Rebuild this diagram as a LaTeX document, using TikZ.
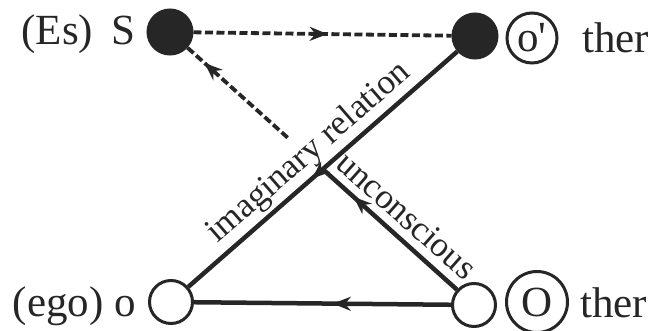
\documentclass[tikz,border=0pt]{standalone}
\usepackage{fontspec}
\setmainfont{Liberation Serif}
\usetikzlibrary{arrows.meta,decorations.markings,calc}

\begin{document}
\begin{tikzpicture}[x=1pt, y=-1pt,
    dot/.style={circle, draw=black!85, fill=black!85, line width=3pt, minimum size=44pt, inner sep=0pt},
    hole/.style={circle, draw=black!85, fill=white, line width=3pt, minimum size=43pt, inner sep=0pt},
    ring/.style={circle, draw=black!85, line width=3pt, inner sep=0pt},
    big/.style={font=\fontsize{43}{43}\selectfont, text=black!85, inner sep=0pt},
    small/.style={font=\fontsize{35}{35}\selectfont, text=black!85, inner sep=0pt},
    solid line/.style={draw=black!85, line width=4.5pt},
    dash line/.style={draw=black!85, line width=3.8pt, dash pattern=on 8pt off 3.5pt},
    marrow/.style={postaction={decorate, decoration={markings,
        mark=at position #1 with {\arrow[black!85]{Stealth[length=18pt, width=14pt]}}}}}]
    \useasboundingbox (0,0) rectangle (649,330);

    % the four corners of the schema
    \node[dot]  (S)   at (170,32)  {};
    \node[dot]  (op)  at (475,36)  {};
    \node[hole] (ego) at (171,302) {};
    \node[hole] (O)   at (474,305) {};

    % labels beside the corners
    \node[big, anchor=base east] (tS)   at (136,44)  {(Es)\hspace{8pt} S};
    \node[big, anchor=base east] (tego) at (136,316) {(ego) o};
    \node[ring, big, minimum size=50pt] (rop) at (532,38)  {o\textquotesingle};
    \node[big, anchor=base west] (top)  at (582,52)  {ther};
    \node[ring, big, minimum size=61pt] (rO)  at (537,302) {O};
    \node[big, anchor=base west] (tO)   at (580,317) {ther};

    % crossing point, start of the dashed part, label feet
    \coordinate (X) at (intersection of S--O and ego--op);
    \coordinate (G) at ($(S)!0.387!(O)$);
    \coordinate (m1) at ($(ego)!0.5!(op)$);
    \coordinate (m2) at ($(X)!0.46!(O)$);

    % connectors
    \draw[dash line, marrow=0.52] (S) -- (op);
    \draw[solid line, marrow=0.54] (op) -- (ego);
    \draw[solid line, marrow=0.46] (O) -- (ego);
    \draw[solid line, marrow=0.77] (O) -- (X);
    \draw[dash line, marrow=0.83] (G) -- (S);

    % labels along the diagonals
    \node[small, rotate=41] (imag) at ($(m1)!21pt!90:(op)$) {imaginary relation};
    \node[small, rotate=-41.5] (unc) at ($(m2)!22pt!90:(O)$) {unconscious};
\end{tikzpicture}
\end{document}
